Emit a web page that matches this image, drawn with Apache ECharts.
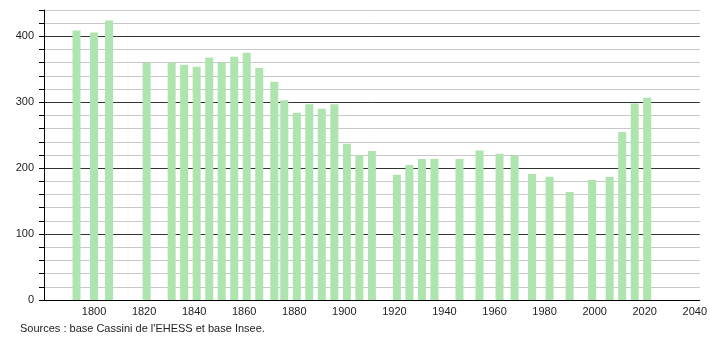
<!DOCTYPE html>
<html>
<head>
<meta charset="utf-8">
<script src="https://cdn.jsdelivr.net/npm/echarts@6/dist/echarts.min.js"></script>
<style>html,body{margin:0;padding:0;background:#fff}#c{width:710px;height:340px}</style>
</head>
<body>
<div id="c"></div>
<script>
const years = [1793, 1800, 1806, 1821, 1831, 1836, 1841, 1846, 1851, 1856, 1861, 1866, 1872, 1876, 1881, 1886, 1891, 1896, 1901, 1906, 1911, 1921, 1926, 1931, 1936, 1946, 1954, 1962, 1968, 1975, 1982, 1990, 1999, 2006, 2011, 2016, 2021];
const population = [409, 406, 424, 360, 360, 357, 354, 368, 360, 369, 375, 352, 331, 303, 284, 297, 290, 297, 237, 220, 226, 190, 205, 214, 214, 214, 227, 222, 219, 191, 187, 164, 182, 187, 255, 298, 307];
const xTickLabels = [1800, 1820, 1840, 1860, 1880, 1900, 1920, 1940, 1960, 1980, 2000, 2020, 2040];
const yTickLabels = [0, 100, 200, 300, 400];
const sourceText = "Sources : base Cassini de l'EHESS et base Insee.";

const chart = echarts.init(document.getElementById('c'), null, {renderer: 'canvas'});
const font = 'Liberation Sans, Arial, sans-serif';
chart.setOption({
  animation: false,
  grid: {left: 44, right: 10, top: 10, bottom: 40, containLabel: false},
  xAxis: {
    type: 'value', min: 1780, max: 2042, interval: 20,
    axisLine: {show: true, lineStyle: {color: '#000', width: 1}},
    axisTick: {show: false},
    splitLine: {show: false},
    axisLabel: {
      fontFamily: font, fontSize: 11, color: '#222', margin: 6,
      showMinLabel: true, showMaxLabel: true,
      formatter: v => xTickLabels.includes(v) ? String(v) : ''
    }
  },
  yAxis: {
    type: 'value', min: 0, max: 440, interval: 20,
    axisLine: {show: true, lineStyle: {color: '#000', width: 1}},
    axisTick: {show: true, length: 5, lineStyle: {color: '#000'}},
    splitLine: {show: true, lineStyle: {color: ['#333', '#c8c8c8', '#c8c8c8', '#c8c8c8', '#c8c8c8'], width: 1}},
    axisLabel: {
      fontFamily: font, fontSize: 11, color: '#222', margin: 10,
      formatter: v => yTickLabels.includes(v) ? String(v) : ''
    }
  },
  series: [{
    type: 'bar',
    barWidth: 8,
    itemStyle: {color: '#aee4ae'},
    data: years.map((y, i) => [y, population[i]])
  }],
  graphic: [{
    type: 'text', left: 20, top: 323,
    style: {text: sourceText, fontFamily: font, fontSize: 11, fill: '#222'}
  }]
});
</script>
</body>
</html>
